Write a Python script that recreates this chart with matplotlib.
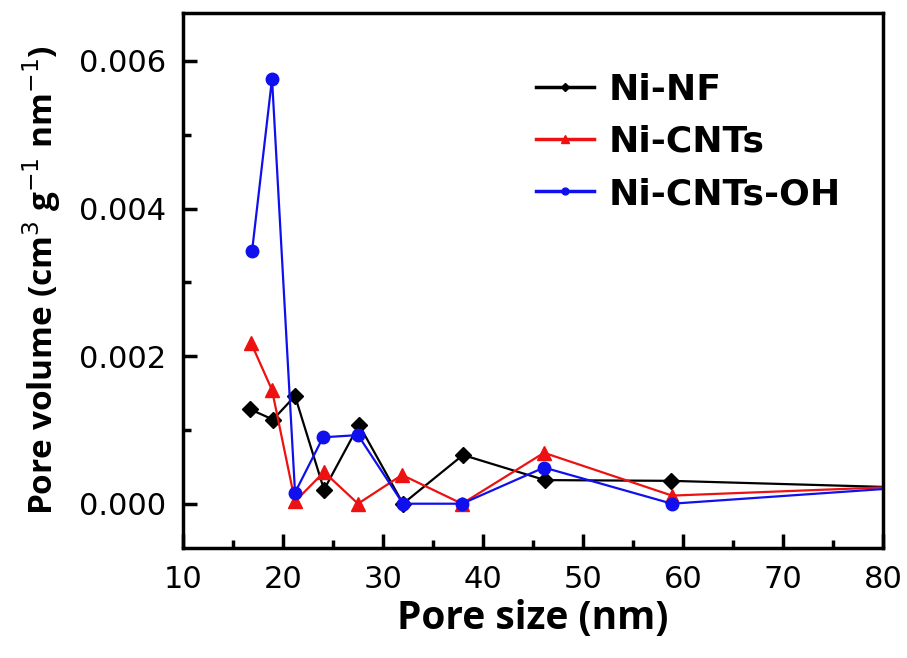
""" Pore size distribution of Ni samples """

import numpy as np
import matplotlib.pyplot as plt
from matplotlib.ticker import MultipleLocator

# Data (last point lies beyond the x range, so lines run to the edge)
pore_nf = [16.7, 19.0, 21.2, 24.1, 27.6, 32.0, 38.0, 46.2, 58.8, 95.0]
vol_nf = [0.00128, 0.00114, 0.00146, 0.00019, 0.00107, 0.0, 0.00066, 0.00032, 0.00031, 0.00017]

pore_cnt = [16.8, 18.9, 21.2, 24.1, 27.5, 31.9, 37.9, 46.1, 58.9, 95.0]
vol_cnt = [0.00218, 0.00154, 0.00003, 0.00043, 0.0, 0.00039, 0.0, 0.00069, 0.00011, 0.00030]

pore_oh = [16.9, 18.9, 21.2, 24.0, 27.5, 32.0, 37.9, 46.1, 58.9, 95.0]
vol_oh = [0.00342, 0.00576, 0.00015, 0.00090, 0.00093, 0.0, 0.0, 0.00049, 0.0, 0.00034]

labels = ['Ni-NF', 'Ni-CNTs', 'Ni-CNTs-OH']
x_ticks = [10, 20, 30, 40, 50, 60, 70, 80]
y_ticks = [0.000, 0.002, 0.004, 0.006]

fig = plt.figure(figsize=(9.07, 6.58), dpi=100)
ax = fig.add_axes([0.2018, 0.1672, 0.7717, 0.8130])

ax.plot(pore_nf, vol_nf, '-D', color='black', lw=1.6, ms=8, label=labels[0])
ax.plot(pore_cnt, vol_cnt, '-^', color='#ee1111', lw=1.6, ms=10, label=labels[1])
ax.plot(pore_oh, vol_oh, '-o', color='#1010ee', lw=1.6, ms=9, label=labels[2])

ax.set_xlim(10, 80)
ax.set_ylim(-0.0006, 0.00665)
ax.set_xticks(x_ticks)
ax.set_yticks(y_ticks)
ax.set_yticklabels([f'{v:.3f}' for v in y_ticks])
ax.xaxis.set_minor_locator(MultipleLocator(5))
ax.yaxis.set_minor_locator(MultipleLocator(0.001))

ax.tick_params(which='both', direction='in', width=2.5)
ax.tick_params(which='major', length=10, labelsize=22, pad=12)
ax.tick_params(which='minor', length=6)
for side in ax.spines.values():
    side.set_linewidth(2.5)

ax.set_xlabel('Pore size (nm)', fontsize=28, fontweight='bold', family='Open Sans', labelpad=4)
ax.set_ylabel('Pore volume (cm$^{3}$ g$^{-1}$ nm$^{-1}$)', fontsize=24, fontweight='bold',
              family='Open Sans', labelpad=12)

leg = ax.legend(loc='upper right', bbox_to_anchor=(0.94, 0.888), frameon=False, borderpad=0,
                borderaxespad=0,
                prop={'family': 'DejaVu Sans', 'weight': 'bold', 'size': 26},
                handlelength=1.6, handletextpad=0.4, labelspacing=0.5, markerscale=0.55)
for line in leg.get_lines():
    line.set_linewidth(2.5)

fig.savefig('out.png', dpi=100)
